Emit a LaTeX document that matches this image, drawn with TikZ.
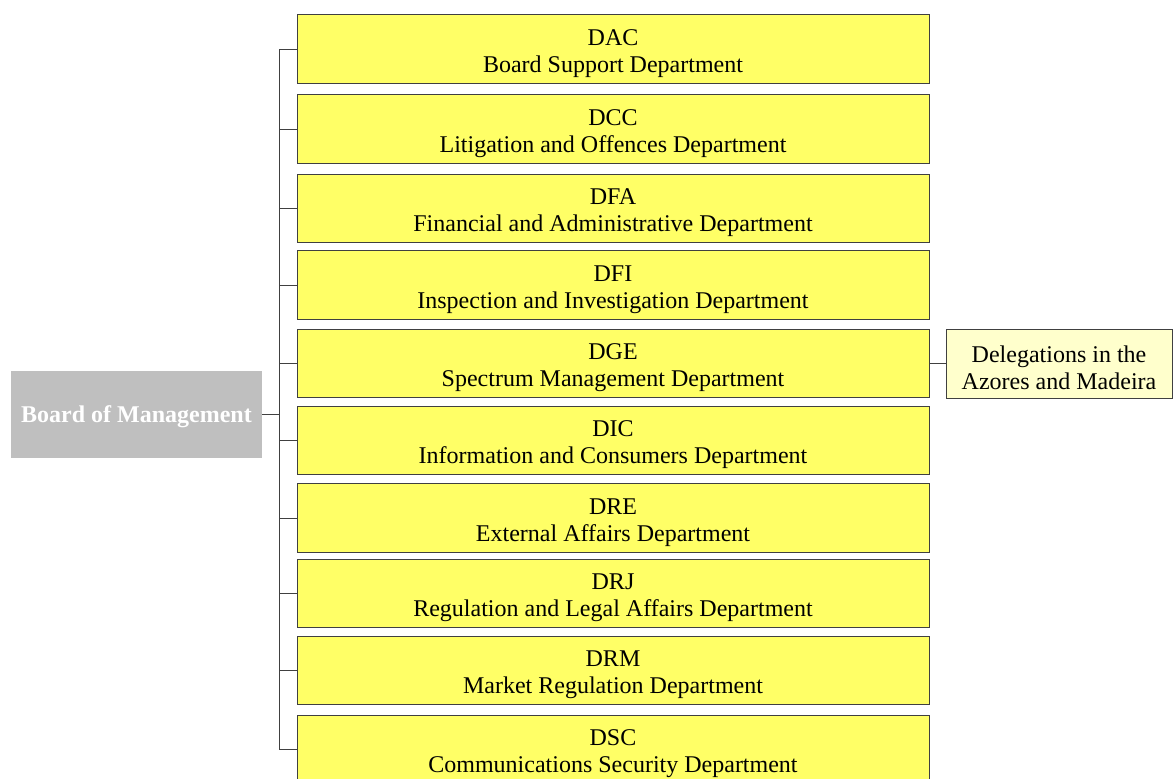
\documentclass[tikz,border=0pt]{standalone}
\usepackage{fontspec}
\setmainfont{Liberation Serif}
\definecolor{deptyellow}{HTML}{FFFF66}
\definecolor{delegyellow}{HTML}{FFFFCC}
\definecolor{boardgray}{HTML}{BFBFBF}
\definecolor{linegray}{HTML}{404040}
\newcommand{\dstrut}{\rule{0pt}{18.5pt}}
\tikzset{
  dept/.style={draw=linegray, line width=0.75pt, fill=deptyellow, inner sep=0pt,
    minimum width=474pt, minimum height=51.4pt, align=center,
    font=\fontsize{18}{20.25}\selectfont},
  deleg/.style={dept, fill=delegyellow, minimum width=169.5pt, minimum height=51.75pt},
  board/.style={fill=boardgray, inner sep=0pt, minimum width=188.25pt,
    minimum height=65.25pt, text=white, font=\fontsize{18}{20.25}\selectfont\bfseries,
    execute at begin node={\rule{0pt}{16pt}}},
  link/.style={draw=linegray, line width=0.75pt}
}
\begin{document}
\begin{tikzpicture}[x=0.75pt, y=-0.75pt]
  \useasboundingbox (0,0) rectangle (1173,778);

  % Leitung
  \node[board] (board) at (136.5,414.5) {Board of Management};

  % Abteilungen
  \node[dept] (dac) at (613,49)    {\dstrut DAC\\Board Support Department};
  \node[dept] (dcc) at (613,129)   {\dstrut DCC\\Litigation and Offences Department};
  \node[dept] (dfa) at (613,208.5) {\dstrut DFA\\Financial and Administrative Department};
  \node[dept] (dfi) at (613,285)   {\dstrut DFI\\Inspection and Investigation Department};
  \node[dept] (dge) at (613,363.5) {\dstrut DGE\\Spectrum Management Department};
  \node[dept] (dic) at (613,440.5) {\dstrut DIC\\Information and Consumers Department};
  \node[dept] (dre) at (613,518)   {\dstrut DRE\\External Affairs Department};
  \node[dept] (drj) at (613,593.5) {\dstrut DRJ\\Regulation and Legal Affairs Department};
  \node[dept] (drm) at (613,670.5) {\dstrut DRM\\Market Regulation Department};
  \node[dept] (dsc) at (613,749.5) {\dstrut DSC\\Communications Security Department};

  % Delegationen
  \node[deleg] (deleg) at (1059,363.5) {\dstrut Delegations in the\\Azores and Madeira};

  % Verbindungen
  \coordinate (trunk) at (279,0);
  \draw[link] (board.east) -- (board.east -| trunk);
  \draw[link] (trunk |- dac.west) -- (trunk |- dsc.west);
  \draw[link] (trunk |- dac.west) -- (dac.west);
  \draw[link] (trunk |- dcc.west) -- (dcc.west);
  \draw[link] (trunk |- dfa.west) -- (dfa.west);
  \draw[link] (trunk |- dfi.west) -- (dfi.west);
  \draw[link] (trunk |- dge.west) -- (dge.west);
  \draw[link] (trunk |- dic.west) -- (dic.west);
  \draw[link] (trunk |- dre.west) -- (dre.west);
  \draw[link] (trunk |- drj.west) -- (drj.west);
  \draw[link] (trunk |- drm.west) -- (drm.west);
  \draw[link] (trunk |- dsc.west) -- (dsc.west);
  \draw[link] (dge.east) -- (deleg.west);
\end{tikzpicture}
\end{document}
